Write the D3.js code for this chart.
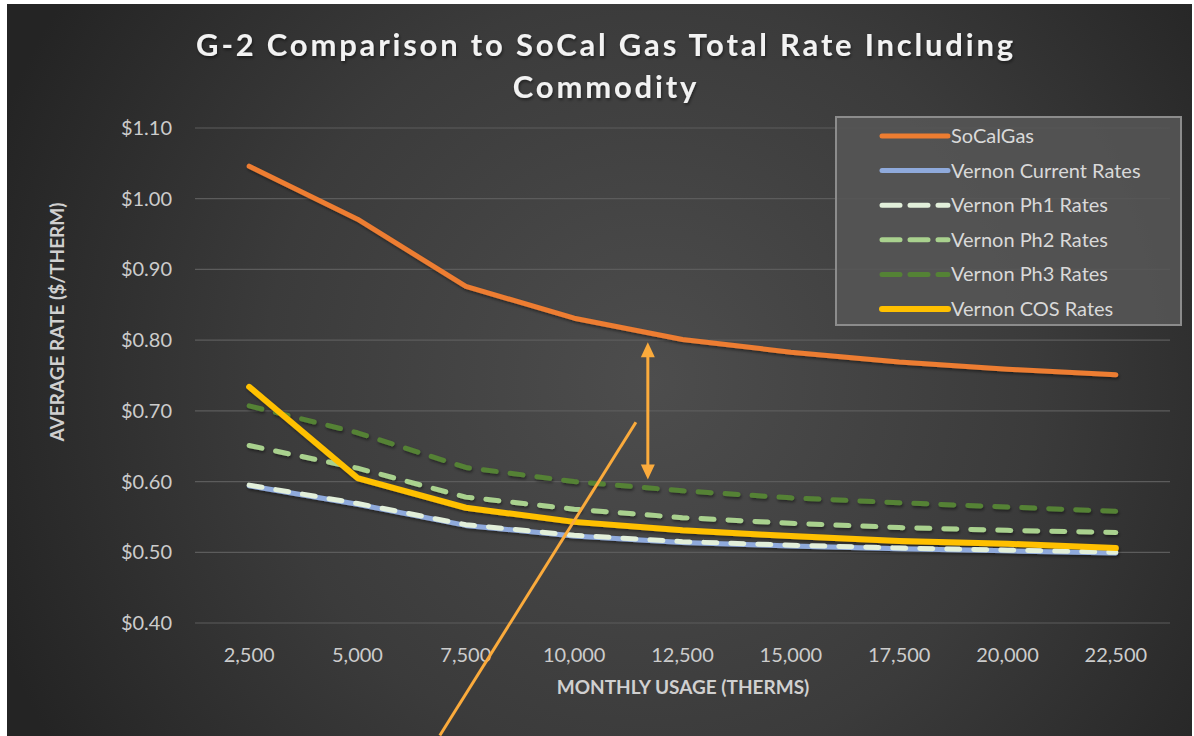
<!DOCTYPE html>
<html>
<head>
<meta charset="utf-8">
<script src="https://cdn.jsdelivr.net/npm/d3@7"></script>
<style>
  html, body { margin: 0; padding: 0; background: #ffffff; }
  svg { display: block; }
  text { font-family: Lato, "Open Sans", sans-serif; }
</style>
</head>
<body>
<svg id="chart"></svg>
<script>
"use strict";

var width  = 1194,
    height = 736;

// Data
var usage = ["2,500", "5,000", "7,500", "10,000", "12,500", "15,000", "17,500", "20,000", "22,500"];

var socalgas = [1.046, 0.971, 0.876, 0.831, 0.801, 0.783, 0.769, 0.759, 0.751];
var current  = [0.594, 0.568, 0.538, 0.523, 0.514, 0.509, 0.505, 0.502, 0.499];
var ph1      = [0.595, 0.569, 0.539, 0.524, 0.515, 0.510, 0.506, 0.503, 0.500];
var ph2      = [0.651, 0.619, 0.578, 0.561, 0.549, 0.541, 0.535, 0.531, 0.528];
var ph3      = [0.707, 0.669, 0.620, 0.600, 0.587, 0.577, 0.570, 0.564, 0.558];
var cos      = [0.734, 0.605, 0.563, 0.543, 0.531, 0.523, 0.516, 0.512, 0.506];

var yTicks = [0.40, 0.50, 0.60, 0.70, 0.80, 0.90, 1.00, 1.10];

var seriesNames = ["SoCalGas", "Vernon Current Rates", "Vernon Ph1 Rates",
                   "Vernon Ph2 Rates", "Vernon Ph3 Rates", "Vernon COS Rates"];

var series = [
  {name: seriesNames[0], values: socalgas, color: "#ed7d31", width: 5,   dash: null},
  {name: seriesNames[1], values: current,  color: "#8faadc", width: 5,   dash: null},
  {name: seriesNames[2], values: ph1,      color: "#e2efda", width: 5,   dash: "13,14"},
  {name: seriesNames[3], values: ph2,      color: "#a9d18e", width: 5,   dash: "13,14"},
  {name: seriesNames[4], values: ph3,      color: "#548235", width: 5,   dash: "13,14"},
  {name: seriesNames[5], values: cos,      color: "#ffc000", width: 6,   dash: null}
];

var svg = d3.select("#chart")
            .attr("width", width)
            .attr("height", height);

// background panel
var defs = svg.append("defs");
var grad = defs.append("radialGradient")
               .attr("id", "bg")
               .attr("gradientUnits", "userSpaceOnUse")
               .attr("cx", 650).attr("cy", 380).attr("r", 700);
grad.append("stop").attr("offset", "0%").attr("stop-color", "#4d4d4d");
grad.append("stop").attr("offset", "55%").attr("stop-color", "#3b3b3b");
grad.append("stop").attr("offset", "100%").attr("stop-color", "#242424");

var shadow = defs.append("filter").attr("id", "shadow")
                 .attr("x", "-10%").attr("y", "-10%").attr("width", "120%").attr("height", "130%");
shadow.append("feDropShadow").attr("dx", 1).attr("dy", 2).attr("stdDeviation", 1.5)
      .attr("flood-color", "#000").attr("flood-opacity", 0.45);

svg.append("rect")
   .attr("x", 7).attr("y", 4)
   .attr("width", 1185).attr("height", height - 4)
   .attr("fill", "url(#bg)");

var margin = {left: 195, right: 1170, top: 128, bottom: 623};

var x = d3.scaleBand()
          .domain(usage)
          .range([margin.left, margin.right]);

var y = d3.scaleLinear()
          .domain([0.40, 1.10])
          .range([margin.bottom, margin.top]);

function cx(label) { return x(label) + x.bandwidth() / 2; }

// gridlines
svg.append("g")
   .selectAll("line")
   .data(yTicks)
   .enter().append("line")
     .attr("x1", margin.left)
     .attr("x2", margin.right)
     .attr("y1", function(d) { return y(d); })
     .attr("y2", function(d) { return y(d); })
     .attr("stroke", "#5c5c5c")
     .attr("stroke-width", 1.2);

// y tick labels
svg.append("g")
   .selectAll("text")
   .data(yTicks)
   .enter().append("text")
     .attr("x", 172)
     .attr("y", function(d) { return y(d); })
     .attr("dy", "0.35em")
     .attr("text-anchor", "end")
     .attr("fill", "#cccccc")
     .style("font-size", "20px")
     .text(function(d) { return "$" + d.toFixed(2); });

// x tick labels
svg.append("g")
   .selectAll("text")
   .data(usage)
   .enter().append("text")
     .attr("x", function(d) { return cx(d); })
     .attr("y", 662)
     .attr("text-anchor", "middle")
     .attr("fill", "#cccccc")
     .style("font-size", "20px")
     .text(function(d) { return d; });

// axis titles
svg.append("text")
   .attr("x", 683).attr("y", 694)
   .attr("text-anchor", "middle")
   .attr("fill", "#d0d0d0")
   .style("font-size", "19px")
   .style("font-weight", "bold")
   .text("MONTHLY USAGE (THERMS)");

svg.append("text")
   .attr("transform", "translate(64, 322) rotate(-90)")
   .attr("text-anchor", "middle")
   .attr("fill", "#d0d0d0")
   .style("font-size", "19px")
   .style("font-weight", "bold")
   .text("AVERAGE RATE ($/THERM)");

// title
var title = svg.append("text")
   .attr("text-anchor", "middle")
   .attr("fill", "#f2f2f2")
   .attr("filter", "url(#shadow)")
   .style("font-size", "31px")
   .style("font-weight", "bold")
   .style("letter-spacing", "2.8px");
title.append("tspan").attr("x", 606).attr("y", 56).text("G-2 Comparison to SoCal Gas Total Rate Including");
title.append("tspan").attr("x", 606).attr("y", 98).text("Commodity");

// lines
var line = d3.line()
             .x(function(d, i) { return cx(usage[i]); })
             .y(function(d) { return y(d); });

var lines = svg.append("g").attr("filter", "url(#shadow)");
series.forEach(function(s) {
  lines.append("path")
       .attr("d", line(s.values))
       .attr("fill", "none")
       .attr("stroke", s.color)
       .attr("stroke-width", s.width)
       .attr("stroke-linecap", "round")
       .attr("stroke-linejoin", "round")
       .attr("stroke-dasharray", s.dash);
});

// legend
var legend = svg.append("g").attr("transform", "translate(836, 117)");
legend.append("rect")
      .attr("width", 345).attr("height", 208)
      .attr("fill", "#555555")
      .attr("fill-opacity", 0.9)
      .attr("stroke", "#8c8c8c")
      .attr("stroke-width", 2);

var items = legend.selectAll("g.item")
                  .data(series)
                  .enter().append("g")
                  .attr("class", "item")
                  .attr("transform", function(d, i) { return "translate(0, " + (19 + i * 34.6) + ")"; });

items.append("line")
     .attr("x1", 46).attr("x2", 112)
     .attr("stroke", function(d) { return d.color; })
     .attr("stroke-width", function(d) { return d.width; })
     .attr("stroke-linecap", "round")
     .attr("stroke-dasharray", function(d) { return d.dash ? "18,10" : null; });

items.append("text")
     .attr("x", 115)
     .attr("dy", "0.35em")
     .attr("fill", "#d9d9d9")
     .style("font-size", "20px")
     .text(function(d) { return d.name; });

// annotations
var step = x.step();
var annColor = "#fbab3c";
var arrowX = cx("10,000") + 0.68 * step;
var arrowTop = y(0.80) + 2, arrowBottom = y(0.61) + 5;
var ann = svg.append("g");
ann.append("line")
   .attr("x1", arrowX).attr("x2", arrowX)
   .attr("y1", arrowTop + 12).attr("y2", arrowBottom - 12)
   .attr("stroke", annColor).attr("stroke-width", 3);
ann.append("path")
   .attr("d", "M" + arrowX + "," + arrowTop + " l-7,15 l14,0 z")
   .attr("fill", annColor);
ann.append("path")
   .attr("d", "M" + arrowX + "," + arrowBottom + " l-7,-15 l14,0 z")
   .attr("fill", annColor);
ann.append("line")
   .attr("x1", cx("10,000") + 0.57 * step).attr("y1", y(0.684))
   .attr("x2", cx("7,500") - 0.24 * step).attr("y2", y(0.241))
   .attr("stroke", annColor).attr("stroke-width", 3);
</script>
</body>
</html>
